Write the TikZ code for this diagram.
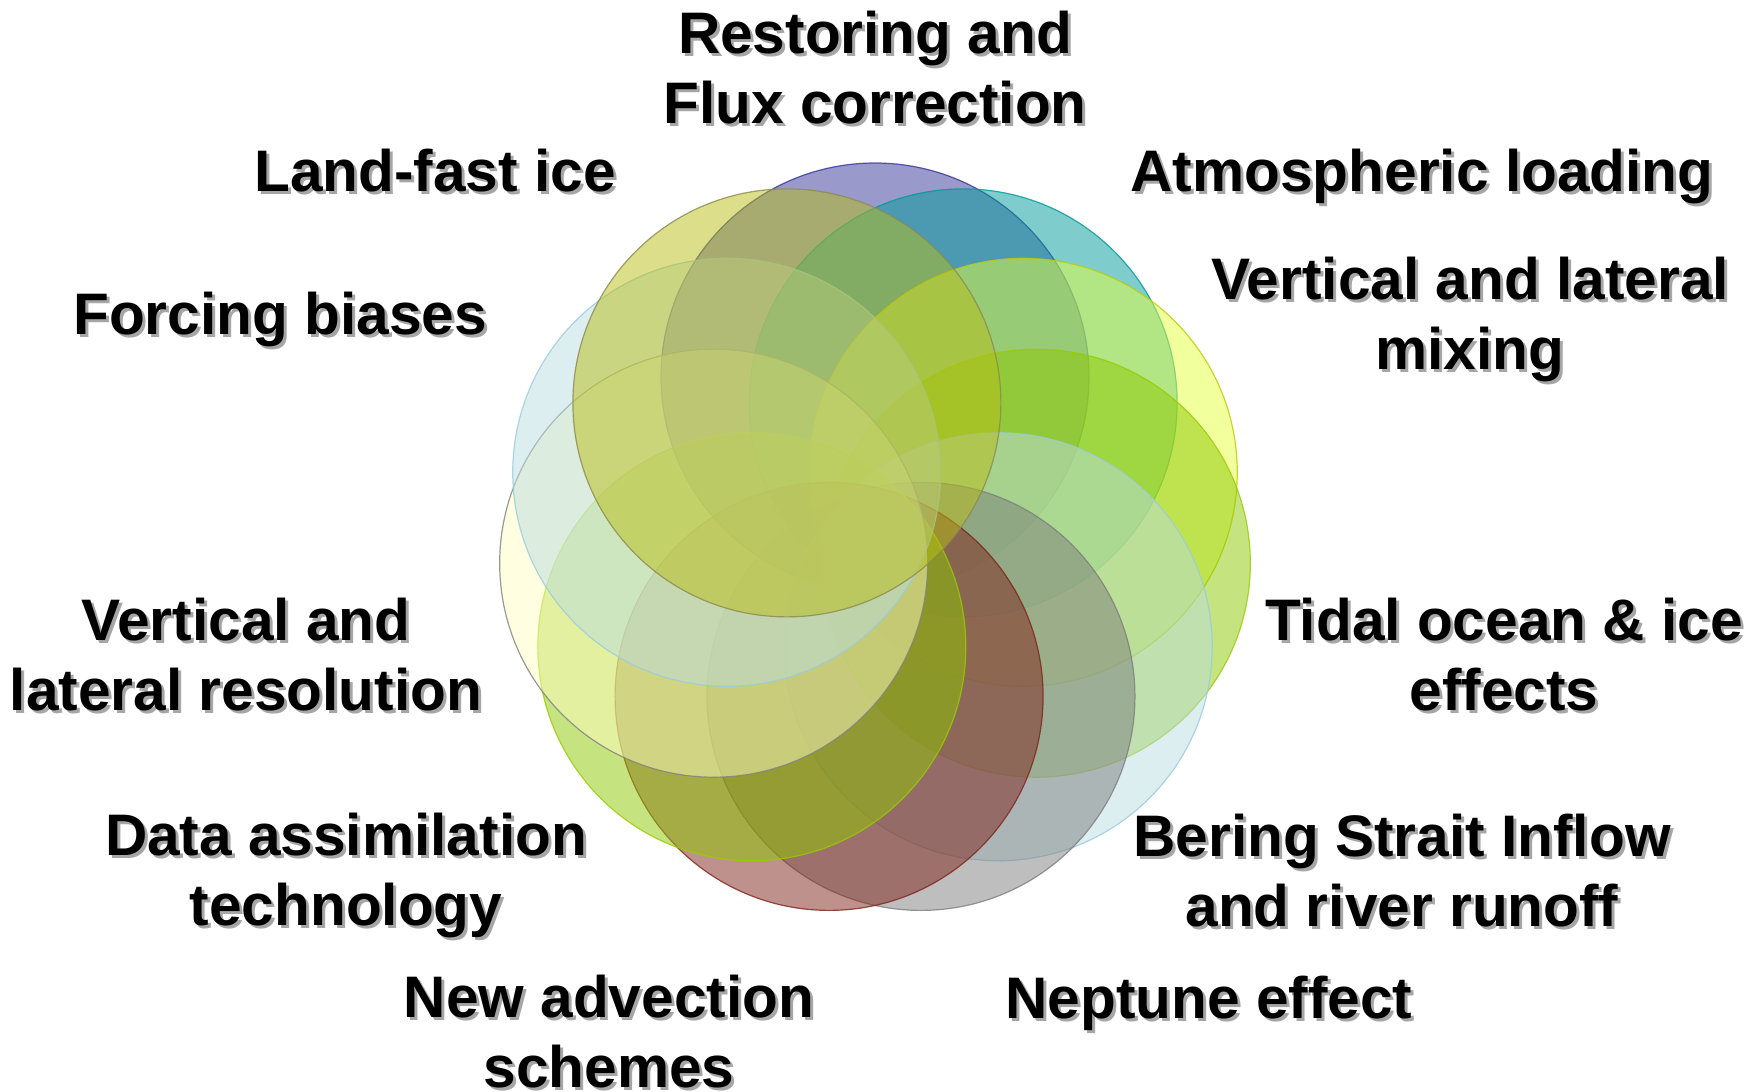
\documentclass[tikz,border=0pt]{standalone}
\usepackage{fontspec}
\setmainfont{Liberation Sans}
\usepackage{xcolor}
\usepackage{tikz}
\usetikzlibrary{positioning,calc}

\definecolor{ringPurple}{HTML}{333399}
\definecolor{ringTeal}{HTML}{009999}
\definecolor{ringYellow}{HTML}{E6FF3C}
\definecolor{ringYellowEdge}{HTML}{BBCC00}
\definecolor{ringGreen}{HTML}{8CC800}
\definecolor{ringGreenEdge}{HTML}{99CC00}
\definecolor{ringIce}{HTML}{BBDDE1}
\definecolor{ringIceEdge}{HTML}{99CCDD}
\definecolor{ringGray}{HTML}{7D7D7D}
\definecolor{ringBrown}{HTML}{7F2319}
\definecolor{ringCream}{HTML}{FFFDC1}
\definecolor{ringOlive}{HTML}{B9BD15}
\definecolor{ringOliveEdge}{HTML}{8A8A50}

\tikzset{
  ring/.style={circle, minimum size=214pt, inner sep=0pt, fill opacity=0.5, draw opacity=0.8, line width=0.6pt},
  lab/.style={font=\bfseries\fontsize{29.3}{35}\selectfont, align=center, inner sep=0pt},
  labshadow/.style={lab, text=black!35}
}

\begin{document}
\begin{tikzpicture}[x=0.5pt, y=-0.5pt]
\useasboundingbox (0,0) rectangle (1764,1091);
\coordinate (hub) at (875,540);
% eleven overlapping rings, clockwise from the top
\foreach \nm/\fc/\dc [count=\k from 0] in {restoreC/ringPurple/ringPurple, atmosC/ringTeal/ringTeal, mixingC/ringYellow/ringYellowEdge, tidalC/ringGreen/ringGreenEdge, beringC/ringIce/ringIceEdge, neptuneC/ringGray/ringGray, advectC/ringBrown/ringBrown, assimC/ringGreen/ringGreenEdge, resolC/ringCream/gray, forcingC/ringIce/ringIceEdge, landfastC/ringOlive/ringOliveEdge} {
  \node[ring, fill=\fc, draw=\dc] (\nm) at ($(hub)+({-90+\k*360/11}:163)$) {};
}
% labels with a soft drop shadow
\foreach \nm/\pos/\txt in {restore/{875,68}/{Restoring and\\Flux correction}, landfast/{435,171}/{Land-fast ice}, atmos/{1422,176}/{Atmospheric loading}, mixing/{1470,319}/{Vertical and lateral\\mixing}, forcing/{280,319}/{Forcing biases}, resol/{246,655}/{Vertical and\\lateral resolution}, tidal/{1504,655}/{Tidal ocean \& ice\\effects}, assim/{346,875}/{Data assimilation\\technology}, bering/{1402,871}/{Bering Strait Inflow\\and river runoff}, advect/{609,1032}/{New advection\\schemes}, neptune/{1209,1003}/{Neptune effect}} {
  \node[labshadow] (\nm-s) at ($(\pos)+(3,3)$) {\txt};
  \node[lab] (\nm) at (\pos) {\txt};
}
\end{tikzpicture}
\end{document}
